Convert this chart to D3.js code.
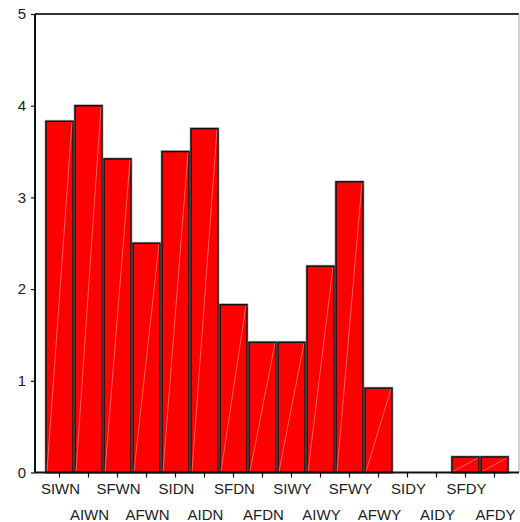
<!DOCTYPE html>
<html><head><meta charset="utf-8">
<script src="https://cdn.jsdelivr.net/npm/d3@7"></script>
<style>body{margin:0;background:#fff;} svg{display:block;}</style>
</head><body>
<svg id="c" width="520" height="522"></svg>
<script>
const categories = ["SIWN","AIWN","SFWN","AFWN","SIDN","AIDN","SFDN","AFDN","SIWY","AIWY","SFWY","AFWY","SIDY","AIDY","SFDY","AFDY"];
const values = [3.83,4.0,3.42,2.5,3.5,3.75,1.83,1.42,1.42,2.25,3.17,0.92,0,0,0.17,0.17];
const yTicks = [0,1,2,3,4,5];

(function(){
const svg = d3.select("#c");
const pL = 35, pR = 519, pT = 14, pB = 472.5;
const x = d3.scaleBand().domain(categories).range([45, 509]).paddingInner(0.069).paddingOuter(0.0345);
const y = d3.scaleLinear().domain([0,5]).range([pB, pT]);

svg.append("line").attr("x1",pL).attr("x2",pR).attr("y1",pT).attr("y2",pT)
  .attr("stroke","#333").attr("stroke-width",2);
svg.append("line").attr("x1",pR).attr("x2",pR).attr("y1",pT).attr("y2",pB)
  .attr("stroke","#b0b0b0").attr("stroke-width",1.2);

const g = svg.append("g");
const bars = values.map((v,i)=>({c:categories[i], v})).filter(d=>d.v>0);
g.selectAll("rect.halo").data(bars).join("rect").attr("class","halo")
  .attr("x", d=>x(d.c)).attr("width", x.bandwidth())
  .attr("y", d=>y(d.v)).attr("height", d=>y(0)-y(d.v))
  .attr("fill","none").attr("stroke","#bbb").attr("stroke-width",3);
g.selectAll("rect.bar").data(bars).join("rect").attr("class","bar")
  .attr("x", d=>x(d.c)).attr("width", x.bandwidth())
  .attr("y", d=>y(d.v)).attr("height", d=>y(0)-y(d.v))
  .attr("fill","#ff0000").attr("stroke","#111").attr("stroke-width",1.5);
g.selectAll("line.diag").data(bars).join("line").attr("class","diag")
  .attr("x1", d=>x(d.c)+1).attr("y1", y(0)-1)
  .attr("x2", d=>x(d.c)+x.bandwidth()-1).attr("y2", d=>y(d.v)+1)
  .attr("stroke","#ff8a8a").attr("stroke-width",0.7);

const ya = svg.append("g").attr("transform",`translate(${pL},0)`)
  .call(d3.axisLeft(y).tickValues(yTicks).tickFormat(d3.format("d")).tickSize(4).tickPadding(5));
ya.select(".domain").attr("stroke","#111").attr("stroke-width",2).attr("d",`M0,${pT}V${pB}`);
ya.selectAll(".tick line").attr("stroke","#111").attr("stroke-width",1.2);
ya.selectAll(".tick text").attr("font-family","Liberation Sans, Arial, sans-serif").attr("font-size",15).attr("fill","#222");

const xa = svg.append("g").attr("transform",`translate(0,${pB})`)
  .call(d3.axisBottom(x).tickSize(5).tickFormat(""));
xa.select(".domain").attr("stroke","#111").attr("stroke-width",2).attr("d",`M${pL},0H${pR}`);
xa.selectAll(".tick line").attr("stroke","#111").attr("stroke-width",1.2);

svg.append("g").selectAll("text").data(categories).join("text")
  .attr("x", d=>x(d)+x.bandwidth()/2+1)
  .attr("y", (d,i)=> i%2===0 ? 494 : 520)
  .attr("text-anchor","middle")
  .attr("font-family","Liberation Sans, Arial, sans-serif").attr("font-size",15).attr("fill","#222")
  .text(d=>d);
})();
</script>
</body></html>
